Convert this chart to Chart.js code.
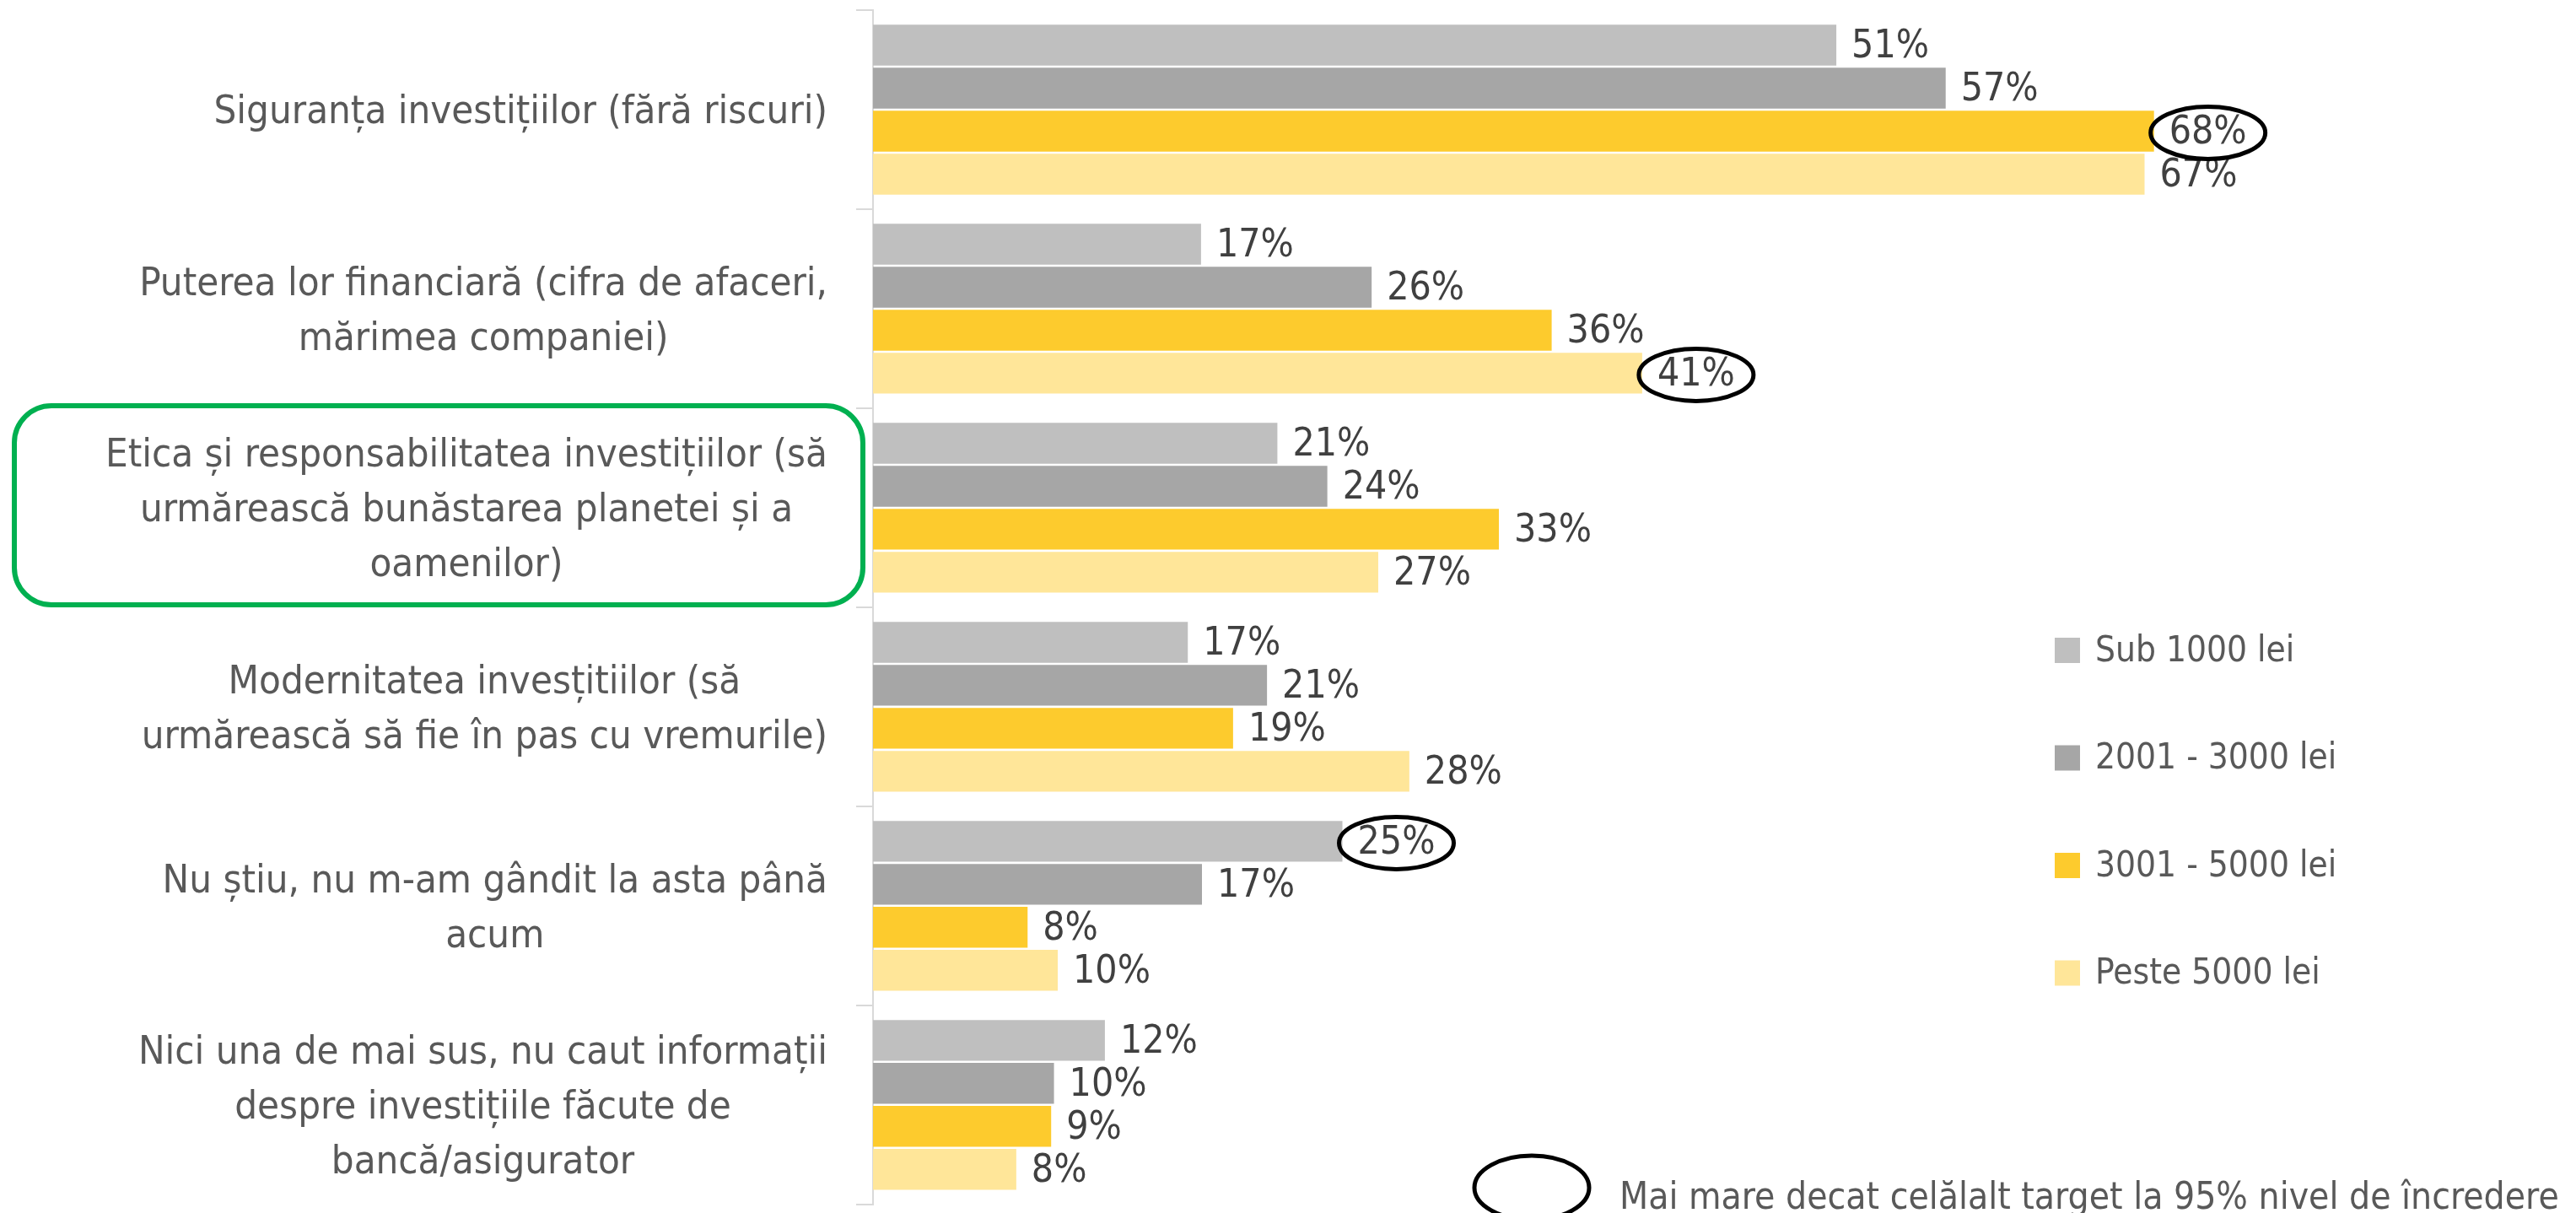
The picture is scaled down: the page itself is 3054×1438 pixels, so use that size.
<!DOCTYPE html>
<html><head><meta charset="utf-8">
<script src="https://cdn.jsdelivr.net/npm/chart.js@4.4.1/dist/chart.umd.min.js"></script>
<style>html,body{margin:0;padding:0;background:#fff;}#wrap{width:3054px;height:1438px;position:relative;}canvas{display:block;}</style>
</head><body><div id="wrap"><canvas id="c" width="3054" height="1438" style="width:3054px;height:1438px"></canvas></div>
<script>
const categories = [
  ['Siguranța investițiilor (fără riscuri)'],
  ['Puterea lor financiară (cifra de afaceri,', 'mărimea companiei)'],
  ['Etica și responsabilitatea investițiilor (să', 'urmărească bunăstarea planetei și a', 'oamenilor)'],
  ['Modernitatea invesțitiilor (să', 'urmărească să fie în pas cu vremurile)'],
  ['Nu știu, nu m-am gândit la asta până', 'acum'],
  ['Nici una de mai sus, nu caut informații', 'despre investițiile făcute de', 'bancă/asigurator']
];
const seriesNames = ['Sub 1000 lei', '2001 - 3000 lei', '3001 - 5000 lei', 'Peste 5000 lei'];
// values in % (labels show rounded values)
const sub1000     = [51.1, 17.4, 21.45, 16.7, 24.9, 12.3];
const s2001to3000 = [56.9, 26.45, 24.1, 20.9, 17.45, 9.6];
const s3001to5000 = [67.95, 36.0, 33.2, 19.1, 8.2, 9.45];
const peste5000   = [67.45, 40.8, 26.8, 28.45, 9.8, 7.6];
const highlights = [[0, 2], [1, 3], [4, 0]]; // [category index, series index]
const highlightedCategory = 2;
const noteText = 'Mai mare decat celălalt target la 95% nivel de încredere';

const colors = ['#BFBFBF', '#A6A6A6', '#FDCB2D', '#FFE699'];
const FONT = "'DejaVu Sans Condensed', sans-serif";
const LABEL_SIZE = 47;
const VALUE_SIZE = 46;
const LEGEND_SIZE = 42;
const LABEL_RIGHT = 981;

const overlay = {
  id: 'overlay',
  afterDatasetsDraw(chart) {
    const ctx = chart.ctx;
    ctx.save();
    ctx.font = `${VALUE_SIZE}px ${FONT}`;
    ctx.fillStyle = '#404040';
    ctx.textBaseline = 'middle';
    ctx.textAlign = 'left';
    const labelPos = {};
    chart.data.datasets.forEach((ds, si) => {
      const meta = chart.getDatasetMeta(si);
      meta.data.forEach((bar, ci) => {
        const t = Math.round(ds.data[ci]) + '%';
        const x = bar.x + 18;
        ctx.fillText(t, x, bar.y + 3);
        labelPos[ci + '_' + si] = {x: x, y: bar.y + 3, w: ctx.measureText(t).width};
      });
    });
    // significance ellipses
    ctx.strokeStyle = '#000';
    ctx.lineWidth = 5;
    highlights.forEach(([ci, si]) => {
      const p = labelPos[ci + '_' + si];
      ctx.beginPath();
      ctx.ellipse(p.x + p.w / 2, p.y - 1, p.w / 2 + 22, 31, 0, 0, Math.PI * 2);
      ctx.stroke();
    });
    ctx.restore();
  },
  afterDraw(chart) {
    const ctx = chart.ctx;
    const ys = chart.scales.y;
    ctx.save();
    // category labels
    ctx.fillStyle = '#595959';
    ctx.font = `${LABEL_SIZE}px ${FONT}`;
    ctx.textBaseline = 'middle';
    ctx.textAlign = 'center';
    const lh = 65;
    categories.forEach((lines, i) => {
      const cy = ys.getPixelForTick(i) + 4;
      const w = Math.max(...lines.map(l => ctx.measureText(l).width));
      const cx = LABEL_RIGHT - w / 2;
      lines.forEach((l, j) => ctx.fillText(l, cx, cy + (j - (lines.length - 1) / 2) * lh));
    });
    // green highlight box
    const half = (ys.getPixelForTick(1) - ys.getPixelForTick(0)) / 2;
    const gc = ys.getPixelForTick(highlightedCategory);
    ctx.strokeStyle = '#00B050';
    ctx.lineWidth = 6;
    ctx.beginPath();
    ctx.roundRect(17, gc - half - 3, 1006, 2 * half, 44);
    ctx.stroke();
    // legend
    ctx.textAlign = 'left';
    ctx.font = `${LEGEND_SIZE}px ${FONT}`;
    chart.data.datasets.forEach((ds, i) => {
      const cy = 771 + i * 127.5;
      ctx.fillStyle = ds.backgroundColor;
      ctx.fillRect(2436, cy - 15, 30, 30);
      ctx.fillStyle = '#595959';
      ctx.fillText(ds.label, 2484, cy + 2);
    });
    // note
    ctx.strokeStyle = '#000';
    ctx.lineWidth = 5;
    ctx.beginPath();
    ctx.ellipse(1816, 1408, 68, 38, 0, 0, Math.PI * 2);
    ctx.stroke();
    ctx.fillStyle = '#595959';
    ctx.textBaseline = 'alphabetic';
    let fs = 44;
    ctx.font = `${fs}px ${FONT}`;
    const w = ctx.measureText(noteText).width;
    fs = fs * 1114 / w;
    ctx.font = `${fs}px ${FONT}`;
    ctx.fillText(noteText, 1920, 1433);
    ctx.restore();
  }
};

new Chart(document.getElementById('c'), {
  type: 'bar',
  data: {
    labels: categories,
    datasets: [sub1000, s2001to3000, s3001to5000, peste5000].map((d, i) => ({
      label: seriesNames[i],
      data: d,
      backgroundColor: colors[i],
      borderWidth: 0,
      categoryPercentage: 0.864,
      barPercentage: 0.95
    }))
  },
  options: {
    indexAxis: 'y',
    responsive: false,
    animation: false,
    devicePixelRatio: 1,
    layout: { padding: { top: 12, bottom: 9, right: 7.5, left: 0 } },
    plugins: { legend: { display: false }, tooltip: { enabled: false } },
    scales: {
      x: { display: false, min: 0, max: 90 },
      y: {
        offset: true,
        grid: { offset: true, drawOnChartArea: false, color: '#D9D9D9', lineWidth: 2, tickLength: 20 },
        border: { color: '#D9D9D9', width: 2 },
        ticks: { callback: () => '', color: 'rgba(0,0,0,0)' },
        afterFit: (s) => { s.width = 1035; }
      }
    }
  },
  plugins: [overlay]
});
</script>
</body></html>
